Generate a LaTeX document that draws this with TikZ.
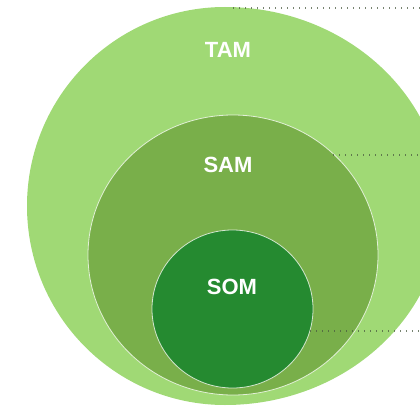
\documentclass[tikz,border=0pt]{standalone}
\usepackage{fontspec}
\setmainfont{Liberation Sans}
\begin{document}
\definecolor{tamgreen}{HTML}{A0D975}
\definecolor{samgreen}{HTML}{79AF4A}
\definecolor{somgreen}{HTML}{258A30}
\definecolor{dotcol}{HTML}{4A5A40}
\tikzset{
  rim/.style={draw=white, draw opacity=0.75, line width=0.8pt},
  lbl/.style={text=white, font=\fontsize{22}{22}\selectfont\bfseries},
  leader/.style={dotcol, opacity=0.75, line width=1.5pt, dash pattern=on 1.4pt off 4.6pt}
}
\begin{tikzpicture}[x=1pt, y=-1pt]
  \useasboundingbox (0,0) rectangle (420,409);
  \begin{scope}
    \clip (0,0) rectangle (420,409);
    % total market: slightly fuller on its right-hand side
    \fill[tamgreen] (225,7)
      arc[start angle=-90, end angle=90, x radius=218, y radius=199]
      arc[start angle=90, end angle=270, x radius=198, y radius=199] -- cycle;
    % serviceable market
    \fill[samgreen, rim] (233,255) ellipse[x radius=145, y radius=140];
    % obtainable market
    \fill[somgreen, rim] (232.5,309) ellipse[x radius=80.5, y radius=79];
  \end{scope}
  \node[lbl] (ttam) at (228,50) {TAM};
  \node[lbl] (tsam) at (228,165) {SAM};
  \node[lbl] (tsom) at (232,287) {SOM};
  % dotted leaders running off to the right
  \coordinate (s1) at (233,8);   \coordinate (e1) at (420,8);
  \coordinate (s2) at (333,155); \coordinate (e2) at (420,155);
  \coordinate (s3) at (310,331); \coordinate (e3) at (420,331);
  \draw[leader] (s1) -- (e1);
  \draw[leader] (s2) -- (e2);
  \draw[leader] (s3) -- (e3);
\end{tikzpicture}
\end{document}
